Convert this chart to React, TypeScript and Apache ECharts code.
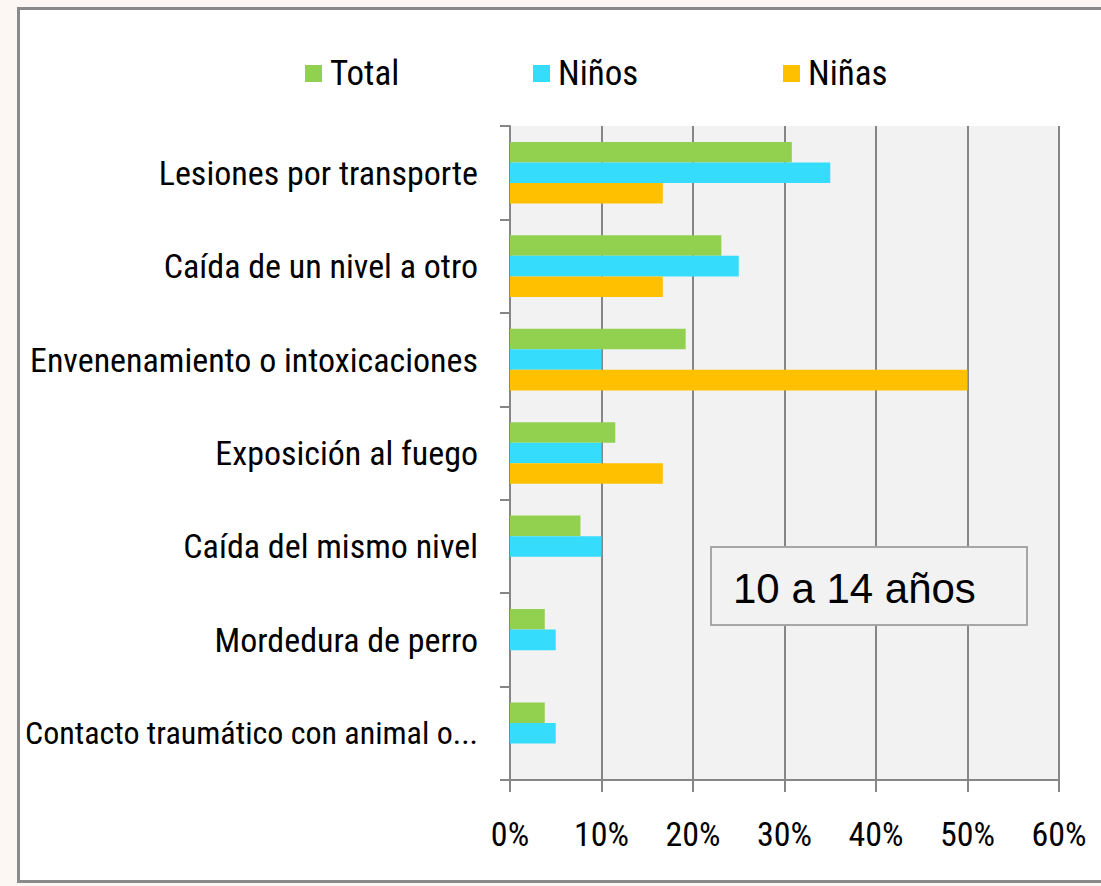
import React, { useEffect, useRef } from "react";
import * as echarts from "echarts";

const categories = [
  "Lesiones por transporte",
  "Caída de un nivel a otro",
  "Envenenamiento o intoxicaciones",
  "Exposición al fuego",
  "Caída del mismo nivel",
  "Mordedura de perro",
  "Contacto traumático con animal o...",
];
const total = [30.8, 23.1, 19.2, 11.5, 7.7, 3.8, 3.8];
const ninos = [35, 25, 10, 10, 10, 5, 5];
const ninas = [16.7, 16.7, 50, 16.7, 0, 0, 0];
const xTicks = [0, 10, 20, 30, 40, 50, 60];

const NARROW = "'Liberation Sans Narrow', 'Roboto Condensed', 'Liberation Sans', sans-serif";

export default function App() {
  const ref = useRef<HTMLDivElement>(null);
  useEffect(() => {
    if (!ref.current) return;
    const chart = echarts.init(ref.current, undefined, { renderer: "svg" });
    const mkLegend = (name: string, left: number) => ({
      data: [name],
      left,
      top: 51,
      itemWidth: 17,
      itemHeight: 17,
      icon: "rect",
      textStyle: { fontFamily: NARROW, fontSize: 35, color: "#000", padding: [0, 0, 0, 3] },
    });
    const yData = categories.map((c, i) =>
      i === categories.length - 1 ? { value: c, textStyle: { fontSize: 32 } } : c
    );
    chart.setOption({
      animation: false,
      backgroundColor: "transparent",
      legend: [mkLegend("Total", 300), mkLegend("Niños", 528), mkLegend("Niñas", 778)],
      grid: {
        left: 510,
        right: 42,
        top: 126,
        bottom: 106,
        show: true,
        backgroundColor: "#f2f2f2",
        borderWidth: 0,
        containLabel: false,
        outerBoundsMode: "none",
      },
      xAxis: {
        type: "value",
        min: xTicks[0],
        max: xTicks[xTicks.length - 1],
        interval: 10,
        axisLine: { show: true, lineStyle: { color: "#868686", width: 2 } },
        axisTick: { show: true, length: 12, lineStyle: { color: "#868686", width: 2 } },
        splitLine: { show: true, lineStyle: { color: "#868686", width: 2 } },
        axisLabel: {
          formatter: "{value}%",
          fontFamily: NARROW,
          fontSize: 34,
          color: "#000",
          margin: 37,
        },
      },
      yAxis: {
        type: "category",
        data: yData,
        inverse: true,
        axisLine: { show: true, lineStyle: { color: "#868686", width: 2 } },
        axisTick: { show: true, length: 10, lineStyle: { color: "#868686", width: 2 } },
        axisLabel: {
          fontFamily: NARROW,
          fontSize: 34,
          color: "#000",
          margin: 32,
        },
      },
      series: [
        { name: "Total", type: "bar", data: total, itemStyle: { color: "#92d050" }, barGap: "0%", barCategoryGap: "34%" },
        { name: "Niños", type: "bar", data: ninos, itemStyle: { color: "#36dcfc" }, barGap: "0%", barCategoryGap: "34%" },
        { name: "Niñas", type: "bar", data: ninas, itemStyle: { color: "#ffc000" }, barGap: "0%", barCategoryGap: "34%" },
      ],
      graphic: [
        {
          type: "rect",
          shape: { x: 711, y: 547, width: 316, height: 78 },
          style: { fill: "#f2f2f2", stroke: "#a6a6a6", lineWidth: 2 },
          z: 100,
        },
        {
          type: "text",
          x: 733,
          y: 588,
          style: {
            text: "10 a 14 años",
            fontFamily: "'Liberation Sans', sans-serif",
            fontSize: 42,
            fill: "#000",
            verticalAlign: "middle",
          },
          z: 101,
        },
      ],
    });
    return () => chart.dispose();
  }, []);
  return (
    <div style={{ position: "fixed", left: 0, top: 0, width: 1101, height: 886, background: "#fcf7f2", overflow: "hidden" }}>
      <div
        style={{
          position: "absolute",
          left: 17,
          top: 7,
          width: 1110,
          height: 876,
          border: "3px solid #8a8a8a",
          background: "#fff",
          boxSizing: "border-box",
        }}
      />
      <div ref={ref} style={{ position: "absolute", left: 0, top: 0, width: 1101, height: 886 }} />
    </div>
  );
}
